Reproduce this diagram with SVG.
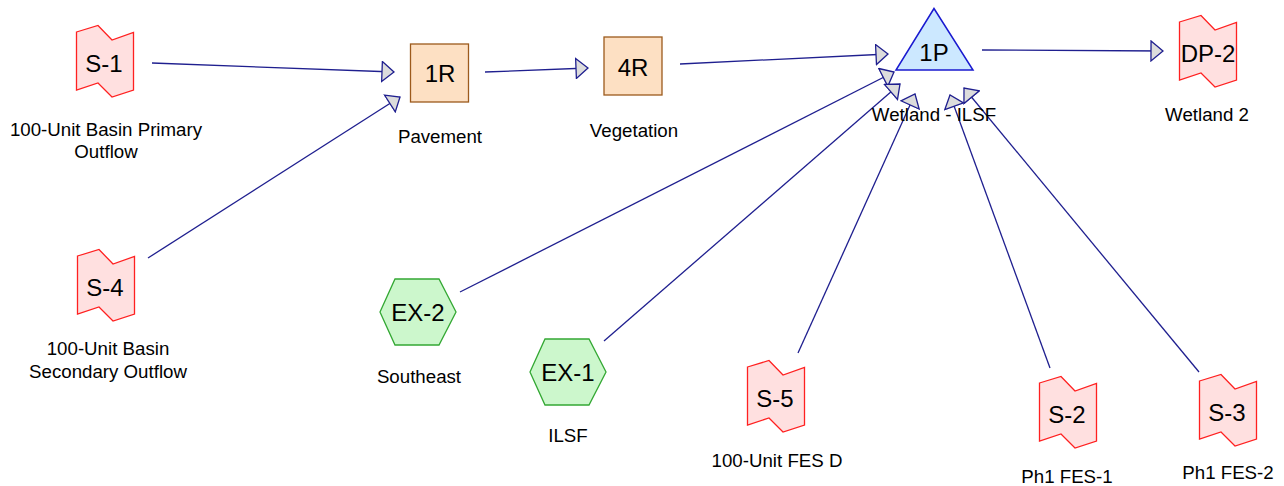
<svg xmlns="http://www.w3.org/2000/svg" width="1284" height="486" viewBox="0 0 1284 486">
  <style>
    text { font-family: "Liberation Sans", Arial, sans-serif; fill: #000; text-anchor: middle; }
    .id { font-size: 24px; }
    .lbl { font-size: 18.7px; }
    .sub { fill: #ffe0e0; stroke: #ff2020; stroke-width: 1.3; }
    .reach { fill: #fde0c3; stroke: #9c5a1c; stroke-width: 1.3; }
    .pond { fill: #cce8ff; stroke: #1a1ad0; stroke-width: 1.5; }
    .link { fill: #ccf7cc; stroke: #33a833; stroke-width: 1.3; }
    .edge { fill: none; stroke: #1f1f8f; stroke-width: 1.3; marker-end: url(#arr); }
  </style>
  <defs>
    <path id="subShape" d="M-28.5,-29 L-7,-35.5 L7,-21 L28.5,-28.5 L28.5,29 L7,36 L-7,22 L-28.5,29 Z"/>
    <polygon id="hexShape" points="-38,0 -23,-33 21,-33 38,0 21,33 -23,33"/>
    <marker id="arr" viewBox="0 0 14 22" refX="13" refY="11" markerWidth="14" markerHeight="22" markerUnits="userSpaceOnUse" orient="auto">
      <path d="M1,1 L13,11 L1,21 Z" fill="#dcdcdc" stroke="#1f1f8f" stroke-width="1.3" stroke-linejoin="miter"/>
    </marker>
  </defs>

  <!-- connectors -->
  <g id="connectors">
    <line class="edge" x1="152" y1="63" x2="394" y2="72"/>
    <line class="edge" x1="148" y1="258" x2="400" y2="97"/>
    <line class="edge" x1="485" y1="72" x2="588" y2="68"/>
    <line class="edge" x1="680" y1="64" x2="888" y2="54"/>
    <line class="edge" x1="460" y1="292" x2="894" y2="72"/>
    <line class="edge" x1="604" y1="341" x2="900" y2="84"/>
    <line class="edge" x1="798" y1="353" x2="915" y2="94"/>
    <line class="edge" x1="1050" y1="368" x2="950" y2="95"/>
    <line class="edge" x1="1199" y1="372" x2="964" y2="88"/>
    <line class="edge" x1="982" y1="50" x2="1163" y2="51"/>
  </g>

  <!-- subcatchments -->
  <g id="S-1">
    <use href="#subShape" class="sub" x="105" y="61"/>
    <text class="id" x="104" y="72">S-1</text>
    <text class="lbl" x="106" y="136">100-Unit Basin Primary</text>
    <text class="lbl" x="106" y="158">Outflow</text>
  </g>
  <g id="S-4">
    <use href="#subShape" class="sub" x="106" y="285"/>
    <text class="id" x="105" y="296">S-4</text>
    <text class="lbl" x="108" y="355">100-Unit Basin</text>
    <text class="lbl" x="108" y="378">Secondary Outflow</text>
  </g>
  <g id="S-5">
    <use href="#subShape" class="sub" x="776" y="396"/>
    <text class="id" x="775" y="407">S-5</text>
    <text class="lbl" x="777" y="467">100-Unit FES D</text>
  </g>
  <g id="S-2">
    <use href="#subShape" class="sub" x="1068" y="412"/>
    <text class="id" x="1067" y="423">S-2</text>
    <text class="lbl" x="1067" y="483">Ph1 FES-1</text>
  </g>
  <g id="S-3">
    <use href="#subShape" class="sub" x="1228" y="410"/>
    <text class="id" x="1227" y="421">S-3</text>
    <text class="lbl" x="1228" y="479">Ph1 FES-2</text>
  </g>
  <g id="DP-2">
    <use href="#subShape" class="sub" x="1208" y="51"/>
    <text class="id" x="1208" y="62">DP-2</text>
    <text class="lbl" x="1207" y="121">Wetland 2</text>
  </g>

  <!-- reaches -->
  <g id="1R">
    <rect class="reach" x="410.5" y="44" width="58" height="58"/>
    <text class="id" x="440" y="82">1R</text>
    <text class="lbl" x="440" y="143">Pavement</text>
  </g>
  <g id="4R">
    <rect class="reach" x="604" y="37" width="58" height="58"/>
    <text class="id" x="633" y="76">4R</text>
    <text class="lbl" x="634" y="137">Vegetation</text>
  </g>

  <!-- pond -->
  <g id="1P">
    <polygon class="pond" points="934,8.5 896,70 973,70"/>
    <text class="id" x="934" y="61">1P</text>
    <text class="lbl" x="934" y="121">Wetland - ILSF</text>
  </g>

  <!-- links -->
  <g id="EX-2">
    <use href="#hexShape" class="link" x="418" y="312"/>
    <text class="id" x="418" y="321">EX-2</text>
    <text class="lbl" x="419" y="383">Southeast</text>
  </g>
  <g id="EX-1">
    <use href="#hexShape" class="link" x="568" y="372"/>
    <text class="id" x="568" y="381">EX-1</text>
    <text class="lbl" x="568" y="442">ILSF</text>
  </g>
</svg>
